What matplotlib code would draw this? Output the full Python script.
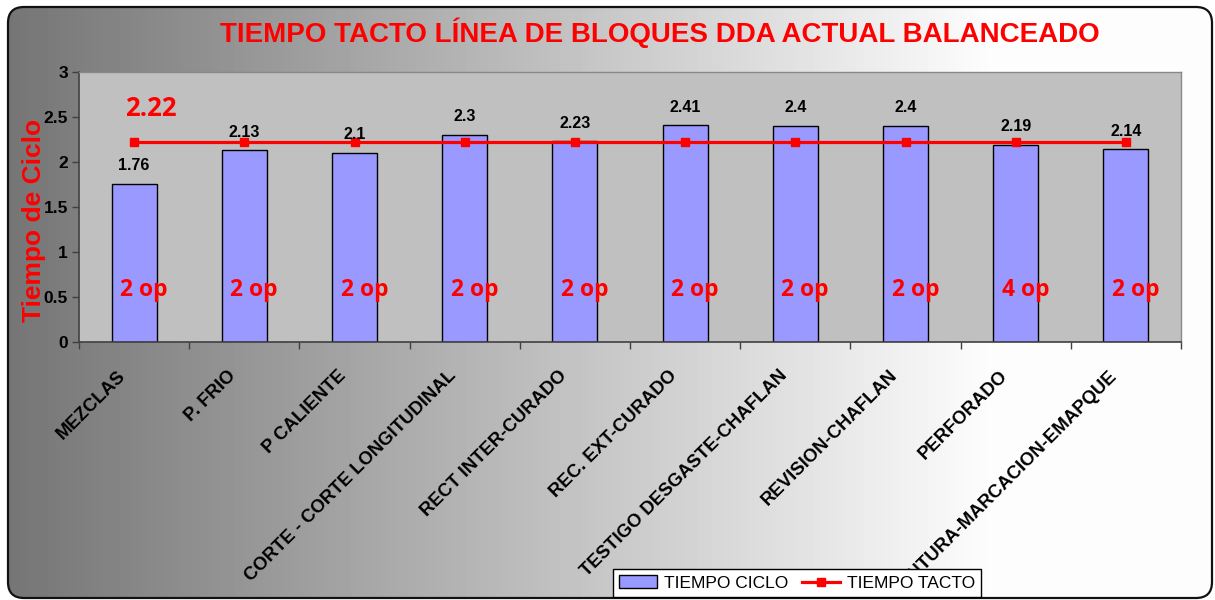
import numpy as np
import matplotlib
matplotlib.use("Agg")
import matplotlib.pyplot as plt
from matplotlib.patches import FancyBboxPatch, Patch
from matplotlib.lines import Line2D
import matplotlib.transforms as mtransforms

# chart values
categories = [
    "MEZCLAS",
    "P. FRIO",
    "P CALIENTE",
    "CORTE - CORTE LONGITUDINAL",
    "RECT INTER-CURADO",
    "REC. EXT-CURADO",
    "TESTIGO DESGASTE-CHAFLAN",
    "REVISION-CHAFLAN",
    "PERFORADO",
    "PINTURA-MARCACION-EMAPQUE",
]
tiempo_ciclo = [1.76, 2.13, 2.1, 2.3, 2.23, 2.41, 2.4, 2.4, 2.19, 2.14]
tiempo_tacto = [2.22] * 10
operarios = ["2 op", "2 op", "2 op", "2 op", "2 op", "2 op", "2 op", "2 op", "4 op", "2 op"]

plt.rcParams["font.family"] = ["Liberation Sans", "DejaVu Sans"]

W, H = 1215, 600
fig = plt.figure(figsize=(W / 100, H / 100), dpi=100)
fig.patch.set_facecolor("white")

# gradient background inside a rounded frame
bg = fig.add_axes([0, 0, 1, 1], zorder=-10)
bg.set_xlim(0, W)
bg.set_ylim(0, H)
bg.axis("off")
xs = np.arange(W)
grad = np.clip(116 + 0.138 * xs, 0, 253) / 255.0
img = np.tile(grad, (H, 1))
im = bg.imshow(img, cmap="gray", vmin=0, vmax=1, extent=[0, W, 0, H],
               origin="lower", aspect="auto")
frame = FancyBboxPatch((8, 2), 1204, 591, boxstyle="round,pad=0,rounding_size=16",
                       facecolor="none", edgecolor="#111111", linewidth=1.6)
bg.add_patch(frame)
im.set_clip_path(frame)

# main plot area
ax = fig.add_axes([79 / W, (H - 342) / H, 1102 / W, 270 / H])
ax.set_facecolor("#C0C0C0")
x = np.arange(len(categories))

ax.bar(x, tiempo_ciclo, width=0.41, color="#9999FF", edgecolor="black",
       linewidth=1.0, zorder=2)
ax.plot(x, tiempo_tacto, color="red", linewidth=2.3, marker="s", markersize=6,
        zorder=3)

ax.set_xlim(-0.5, len(categories) - 0.5)
ax.set_ylim(0, 3)
ax.set_yticks(np.arange(0, 3.01, 0.5))
ax.set_yticklabels(["0", "0.5", "1", "1.5", "2", "2.5", "3"],
                   fontsize=12.5, fontweight="bold")
ax.tick_params(axis="y", length=5, width=1, color="#404040", pad=3)
ax.set_xticks(np.arange(-0.5, len(categories), 1.0))
ax.set_xticklabels([])
ax.tick_params(axis="x", length=5, width=1, color="#404040")

for side in ["left", "bottom"]:
    ax.spines[side].set_color("#404040")
    ax.spines[side].set_linewidth(1.2)
for side in ["top", "right"]:
    ax.spines[side].set_color("#888888")
    ax.spines[side].set_linewidth(1.0)

# value labels above bars
for xi, v in zip(x, tiempo_ciclo):
    ax.annotate(f"{v:g}", (xi, v), xytext=(0, 13), textcoords="offset points",
                ha="center", va="center", fontsize=11.5, fontweight="bold")

# operator count labels
for xi, txt in zip(x, operarios):
    ax.text(xi + 0.09, 0.58, txt, ha="center", va="center", color="red",
            fontsize=16.5, fontweight="bold", family=["Open Sans", "DejaVu Sans"])

ax.text(0.15, 2.6, f"{tiempo_tacto[0]:g}", ha="center", va="center", color="red",
        fontsize=18.5, fontweight="bold", family=["Open Sans", "DejaVu Sans"])

# rotated category labels
off = mtransforms.offset_copy(ax.transData, fig=fig, x=-17, y=-25, units="dots")
for i, name in enumerate(categories):
    ax.text(i, 0, name, rotation=45, rotation_mode="anchor",
            ha="right", va="top", fontsize=13.3, fontweight="bold",
            transform=off, clip_on=False)

fig.text(34 / W, 1 - 220 / H, "Tiempo de Ciclo", rotation=90, ha="center",
         va="center", color="red", fontsize=19, fontweight="bold")

fig.text(660 / W, 1 - 33 / H, "TIEMPO TACTO LÍNEA DE BLOQUES DDA ACTUAL BALANCEADO",
         ha="center", va="center", color="red", fontsize=20, fontweight="bold")

handles = [
    Patch(facecolor="#9999FF", edgecolor="black", linewidth=1.0),
    Line2D([0], [0], color="red", linewidth=2.3, marker="s", markersize=6),
]
leg = fig.legend(handles, ["TIEMPO CICLO", "TIEMPO TACTO"], loc="center",
                 bbox_to_anchor=(797 / W, 17 / H), ncol=2,
                 frameon=True, fancybox=False, edgecolor="black", framealpha=1,
                 prop={"size": 12.5}, handlelength=2.2, handleheight=0.8,
                 borderpad=0.35, columnspacing=0.8, handletextpad=0.4)
leg.get_frame().set_linewidth(1.0)
leg.set_zorder(10)

fig.savefig("out.png", dpi=100)
